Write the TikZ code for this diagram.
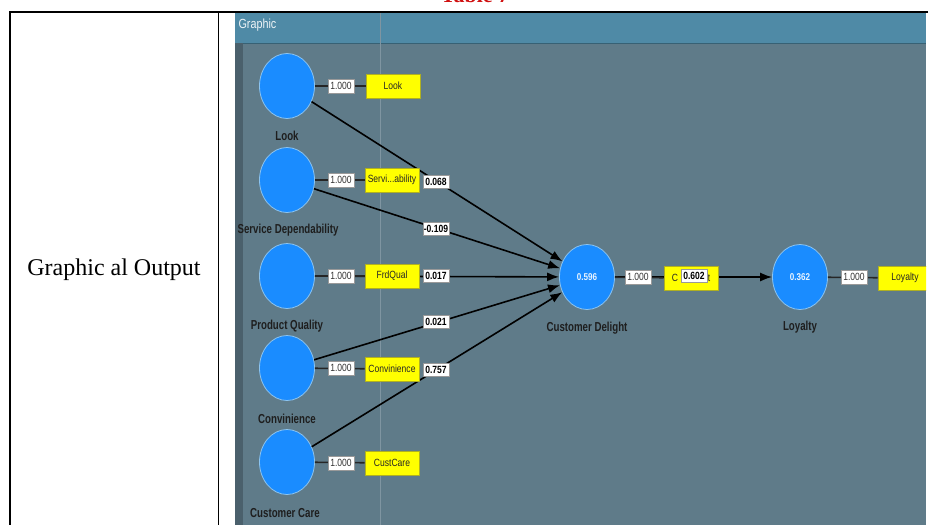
\documentclass[tikz,border=0pt]{standalone}
\usepackage{fontspec}
\usepackage{graphicx}
\setmainfont{Liberation Serif}
\setsansfont{Liberation Sans}
\usetikzlibrary{shapes.geometric,arrows.meta}
\definecolor{canvas}{HTML}{5F7B89}
\definecolor{hdr}{HTML}{4F8AA6}
\definecolor{strip}{HTML}{4A606C}
\definecolor{lv}{HTML}{1A8CFF}
\definecolor{lvb}{HTML}{8CC4F0}
\definecolor{ind}{HTML}{FFFF00}
\definecolor{indb}{HTML}{B0B020}
\definecolor{lab}{HTML}{1E1E1E}
\definecolor{tablered}{HTML}{D01010}
\newcommand\tallText[1]{\scalebox{0.97}[1.3]{#1}}
\newcommand\narrowText[1]{\scalebox{0.9}[1.1]{#1}}
\tikzset{
 lvnode/.style={ellipse, fill=lv, draw=lvb, line width=0.8pt, minimum width=55pt, minimum height=65pt, inner sep=0pt, font=\sffamily\bfseries\fontsize{9}{10}\selectfont, text=white!90!lv},
 lvlabel/.style={font=\sffamily\bfseries\fontsize{10}{11}\selectfont, text=lab},
 indbox/.style={fill=ind, draw=indb, line width=0.6pt, minimum width=54pt, minimum height=24pt, inner sep=0pt, font=\sffamily\fontsize{9.5}{10}\selectfont, text=black!85},
 loadbox/.style={fill=white, draw=black!40, line width=0.5pt, minimum width=26pt, minimum height=14pt, inner sep=0pt, font=\sffamily\fontsize{9.5}{10}\selectfont, text=black!80},
 coefbox/.style={fill=white, draw=black!40, line width=0.5pt, minimum width=26pt, minimum height=13pt, inner sep=0pt, font=\sffamily\bfseries\fontsize{9.5}{10}\selectfont, text=black},
 link/.style={line width=1.6pt, draw=black!85},
 pathline/.style={line width=1.6pt, draw=black, -{Latex[length=12pt,width=9pt]}},
 tableline/.style={line width=1.8pt, draw=black},
}
\begin{document}
\begin{tikzpicture}[x=1pt,y=-1pt]
\useasboundingbox (0,0) rectangle (928,525);
\fill[white] (0,0) rectangle (928,525);
% heading cut off at top
\node[anchor=base, text=tablered, font=\bfseries\fontsize{22}{24}\selectfont] (title) at (475,2) {Table 7};
% table
\draw[tableline] (9,12) -- (928,12);
\draw[tableline] (10,12) -- (10,525);
\draw[tableline] (218.5,12) -- (218.5,525);
\node[font=\fontsize{24}{28}\selectfont] (cell) at (114,270) {Graphic al Output};
\begin{scope}
\clip (235,13) rectangle (926,525);
\fill[canvas] (235,13) rectangle (926,525);
\fill[hdr] (235,13) rectangle (926,43);
\draw[hdr!70!black, line width=0.6pt] (235,43) -- (926,43);
\fill[strip] (235,43) rectangle (243,525);
\draw[canvas!80!white, line width=0.5pt] (380,13) -- (380,525);
\node[anchor=west, text=white!90!hdr, font=\sffamily\fontsize{12}{13}\selectfont] (hdrtext) at (235,25) {\narrowText{Graphic}};
% latent variables
\node[lvnode] (look) at (287,86) {};
\node[lvnode] (serv) at (287,180) {};
\node[lvnode] (prod) at (287,276) {};
\node[lvnode] (conv) at (287,368) {};
\node[lvnode] (care) at (287,462) {};
\node[lvnode] (cd) at (587,277) {\narrowText{0.596}};
\node[lvnode] (loy) at (800,277) {\narrowText{0.362}};
% structural paths
\draw[pathline] (look) -- (cd);
\draw[pathline] (serv) -- (cd);
\draw[pathline] (prod) -- (cd);
\draw[pathline] (conv) -- (cd);
\draw[pathline] (care) -- (cd);
\draw[pathline] (cd) -- (loy);
% indicators
\node[indbox] (lookY) at (393,86) {\narrowText{Look}};
\node[indbox] (servY) at (392,180) {\narrowText{Servi...ability}};
\node[indbox] (prodY) at (392,276) {\narrowText{FrdQual}};
\node[indbox] (convY) at (392,369) {\narrowText{Convinience}};
\node[indbox] (careY) at (392,463) {\narrowText{CustCare}};
\node[indbox] (cdY) at (691,278) {\narrowText{C\hspace{33pt}t}};
\node[indbox] (loyY) at (905,278) {\narrowText{Loyalty}};
\draw[link] (look) -- (lookY);
\draw[link] (serv) -- (servY);
\draw[link] (prod) -- (prodY);
\draw[link] (conv) -- (convY);
\draw[link] (care) -- (careY);
\draw[link] (cd) -- (cdY);
\draw[link] (loy) -- (loyY);
% loadings
\node[loadbox] (lookL) at (341,86) {\narrowText{1.000}};
\node[loadbox] (servL) at (341,180) {\narrowText{1.000}};
\node[loadbox] (prodL) at (341,276) {\narrowText{1.000}};
\node[loadbox] (convL) at (341,368) {\narrowText{1.000}};
\node[loadbox] (careL) at (341,463) {\narrowText{1.000}};
\node[loadbox] (cdL) at (638,277) {\narrowText{1.000}};
\node[loadbox] (loyL) at (854,277) {\narrowText{1.000}};
% path coefficients
\node[coefbox] (c1) at (436,182) {\narrowText{0.068}};
\node[coefbox] (c2) at (436,229) {\narrowText{-0.109}};
\node[coefbox] (c3) at (436,276) {\narrowText{0.017}};
\node[coefbox] (c4) at (436,322) {\narrowText{0.021}};
\node[coefbox] (c5) at (436,370) {\narrowText{0.757}};
\node[coefbox] (c6) at (694,276) {\narrowText{0.602}};
% labels
\node[lvlabel] (lookT) at (287,136) {\tallText{Look}};
\node[lvlabel] (servT) at (288,230) {\tallText{Service Dependability}};
\node[lvlabel] (prodT) at (287,326) {\tallText{Product Quality}};
\node[lvlabel] (convT) at (287,419) {\tallText{Convinience}};
\node[lvlabel] (careT) at (285,513) {\tallText{Customer Care}};
\node[lvlabel] (cdT) at (587,328) {\tallText{Customer Delight}};
\node[lvlabel] (loyT) at (800,327) {\tallText{Loyalty}};
\end{scope}
\end{tikzpicture}
\end{document}
